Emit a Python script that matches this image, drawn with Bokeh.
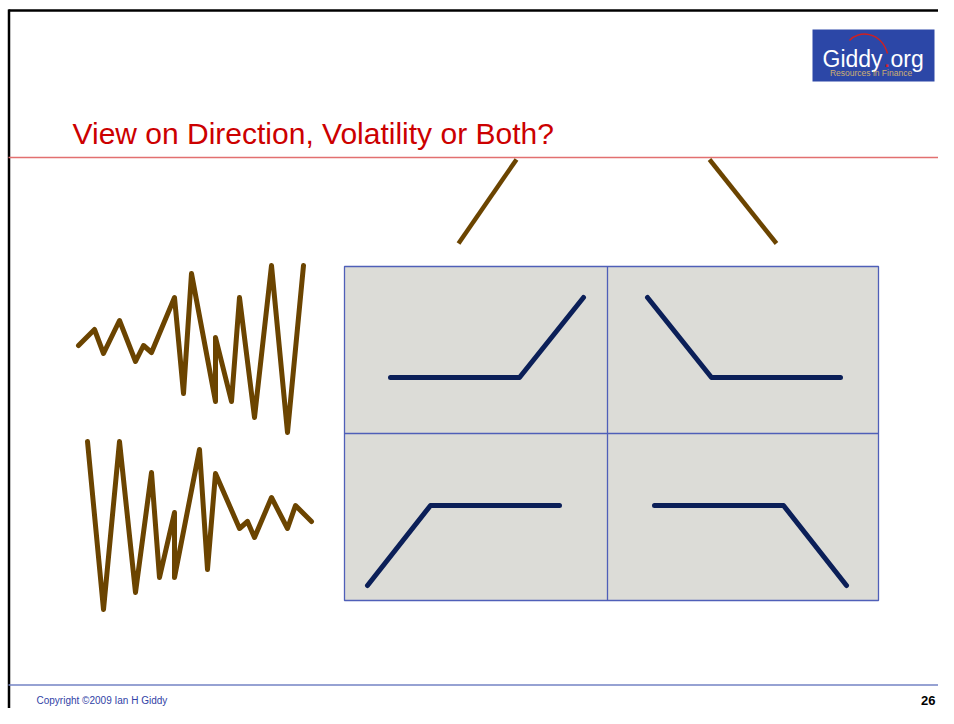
from bokeh.plotting import figure
from bokeh.models import Range1d
from bokeh.core.properties import value
from bokeh.embed import file_html
from bokeh.resources import INLINE

# ---- data (slide coordinates, y grows downward) ----
title_text = "View on Direction, Volatility or Both?"
copyright_text = "Copyright \u00a92009 Ian H Giddy"
page_number = "26"

# rising-volatility price path
vol_up_x = [78, 94, 103, 119, 135, 143, 151, 174, 183, 191, 215, 215, 231, 239, 254, 271, 287, 303]
vol_up_y = [345, 329, 353, 320, 361, 345, 352, 297, 393, 273, 401, 337, 401, 297, 417, 265, 432, 265]

# falling-volatility price path
vol_down_x = [87, 103, 119, 135, 151, 159, 174, 174, 199, 207, 215, 239, 247, 254, 271, 287, 295, 311]
vol_down_y = [441, 609, 441, 592, 472, 577, 512, 577, 449, 569, 473, 528, 521, 537, 497, 528, 505, 521]

# direction pointers
bull_ptr_x = [516, 458]
bull_ptr_y = [159, 243]
bear_ptr_x = [709, 776]
bear_ptr_y = [159, 243]

# payoff diagrams (long call, long put, short put, short call)
long_call_x = [390, 519, 583]
long_call_y = [377, 377, 297]
long_put_x = [647, 711, 840]
long_put_y = [297, 377, 377]
short_put_x = [367, 430, 559]
short_put_y = [585, 505, 505]
short_call_x = [654, 783, 846]
short_call_y = [505, 505, 585]

# 2x2 grid
grid_left, grid_mid_x, grid_right = 344, 607, 878
grid_top, grid_mid_y, grid_bottom = 266, 433, 600

W, H = 938, 708
p = figure(width=W, height=H, output_backend="svg", toolbar_location=None,
           x_range=Range1d(0, W), y_range=Range1d(H, 0),
           min_border=0, outline_line_color=None, background_fill_color="white",
           border_fill_color="white")
p.axis.visible = False
p.grid.visible = False

# slide frame
p.segment(x0=[8], y0=[10], x1=[960], y1=[10], line_color="black", line_width=2.5)
p.segment(x0=[8.5], y0=[9], x1=[8.5], y1=[730], line_color="black", line_width=2.5)

# title rule and footer rule
p.segment(x0=[8], y0=[157], x1=[960], y1=[157], line_color="#E27070", line_width=1.5)
p.segment(x0=[8], y0=[684.5], x1=[960], y1=[684.5], line_color="#7383C4", line_width=1.5)

# title
p.text(x=[72], y=[133], text=[title_text], text_color="#CC0000",
       text_font=value("Liberation Sans"), text_font_size="30px",
       text_baseline="alphabetic", text_align="left")

# logo
p.quad(left=[812], right=[934], top=[29], bottom=[81], fill_color="#2C47A7", line_color=None)
p.bezier(x0=[849], y0=[40], x1=[887], y1=[53], cx0=[858], cy0=[30], cx1=[880], cy1=[30],
         line_color="#D02020", line_width=1.5)
p.text(x=[822], y=[58], text=["Giddy"], text_color="white",
       text_font=value("Liberation Sans"), text_font_size="23px",
       text_baseline="alphabetic", text_align="left")
p.text(x=[886.5], y=[58], text=["."], text_color="#E02020",
       text_font=value("Liberation Sans"), text_font_size="23px",
       text_baseline="alphabetic", text_align="center")
p.text(x=[890], y=[58], text=["org"], text_color="white",
       text_font=value("Liberation Sans"), text_font_size="23px",
       text_baseline="alphabetic", text_align="left")
p.text(x=[870.5], y=[72], text=["Resources in Finance"], text_color="#CDAE72",
       text_font=value("Liberation Sans"), text_font_size="8.5px",
       text_baseline="alphabetic", text_align="center")

# volatility paths
p.line(vol_up_x, vol_up_y, line_color="#6B4400", line_width=5, line_join="round", line_cap="round")
p.line(vol_down_x, vol_down_y, line_color="#6B4400", line_width=5, line_join="round", line_cap="round")

# direction pointers
p.line(bull_ptr_x, bull_ptr_y, line_color="#6B4400", line_width=4.5)
p.line(bear_ptr_x, bear_ptr_y, line_color="#6B4400", line_width=4.5)

# grid
p.quad(left=[grid_left], right=[grid_right], top=[grid_top], bottom=[grid_bottom],
       fill_color="#DCDCD7", line_color="#4F5FB8", line_width=1.3)
p.segment(x0=[grid_mid_x, grid_left], y0=[grid_top, grid_mid_y],
          x1=[grid_mid_x, grid_right], y1=[grid_bottom, grid_mid_y],
          line_color="#4F5FB8", line_width=1.3)

# payoffs
for xs, ys in [(long_call_x, long_call_y), (long_put_x, long_put_y),
               (short_put_x, short_put_y), (short_call_x, short_call_y)]:
    p.line(xs, ys, line_color="#0B1F58", line_width=5, line_join="round", line_cap="round")

# footer
p.text(x=[36], y=[700], text=[copyright_text], text_color="#3142A6",
       text_font=value("Liberation Sans"), text_font_size="10px",
       text_baseline="alphabetic", text_align="left")
p.text(x=[935], y=[700], text=[page_number], text_color="black",
       text_font=value("Liberation Sans"), text_font_size="13px", text_font_style="bold",
       text_baseline="alphabetic", text_align="right")

open("out.html", "w").write(file_html(p, INLINE))
